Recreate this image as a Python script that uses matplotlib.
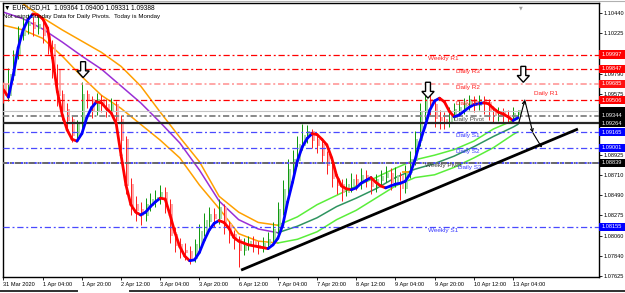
import matplotlib
matplotlib.use("Agg")
import matplotlib.pyplot as plt
from matplotlib.collections import LineCollection
from matplotlib.patches import Polygon, Rectangle
from matplotlib.lines import Line2D
import matplotlib.transforms as mtransforms
import numpy as np

plt.rcParams['font.family'] = ['Liberation Sans', 'DejaVu Sans']
plt.rcParams['lines.scale_dashes'] = False

# ---------------- data ----------------
title_text = "\u25BC EURUSD,H1  1.09364 1.09400 1.09331 1.09388"
note_text = "Not using Sunday Data for Daily Pivots.  Today is Monday"

x_tick_bars = [0, 16, 32, 48, 64, 80, 96, 112, 128, 144, 160, 176, 192, 208]
x_tick_labels = ["31 Mar 2020", "1 Apr 04:00", "1 Apr 20:00", "2 Apr 12:00", "3 Apr 04:00",
                 "3 Apr 20:00", "6 Apr 12:00", "7 Apr 04:00", "7 Apr 20:00", "8 Apr 12:00",
                 "9 Apr 04:00", "9 Apr 20:00", "10 Apr 12:00", "13 Apr 04:00"]
y_ticks = [1.10440, 1.10225, 1.10005, 1.09790, 1.09575, 1.09360, 1.09140,
           1.08925, 1.08710, 1.08490, 1.08275, 1.08060, 1.07840, 1.07625]
# tick labels hidden behind the price boxes in the reference
y_ticks_hidden = [1.10005, 1.09360, 1.09140]

first_open = 1.0967
closes = [1.0956, 1.0978, 1.0999, 1.1020, 1.1031, 1.1034, 1.1028, 1.1031, 1.1020, 1.1010,
          1.0983, 1.0956, 1.0940, 1.0930, 1.0913, 1.0924, 1.0956, 1.0951, 1.0940, 1.0951,
          1.0946, 1.0940, 1.0946, 1.0930, 1.0908, 1.0860, 1.0839, 1.0833, 1.0828, 1.0839,
          1.0844, 1.0846, 1.0852, 1.0839, 1.0807, 1.0796, 1.0790, 1.0788, 1.0782, 1.0796,
          1.0810, 1.0822, 1.0828, 1.0825, 1.0835, 1.0817, 1.0807, 1.0801, 1.0790, 1.0796,
          1.0799, 1.0795, 1.0793, 1.0797, 1.0801, 1.0812, 1.0833, 1.0855, 1.0876, 1.0887,
          1.0903, 1.0913, 1.0917, 1.0908, 1.0903, 1.0892, 1.0881, 1.0867, 1.0860, 1.0852,
          1.0860, 1.0865, 1.0862, 1.0870, 1.0865, 1.0859, 1.0865, 1.0869, 1.0872, 1.0863,
          1.0870, 1.0857, 1.0874, 1.0887, 1.0908, 1.0938, 1.0951, 1.0946, 1.0932, 1.0930,
          1.0927, 1.0935, 1.0940, 1.0942, 1.0947, 1.0951, 1.0946, 1.0951, 1.0948, 1.0940,
          1.0935, 1.0937, 1.0934, 1.0932, 1.0936, 1.0939]
highs = [1.0970, 1.0985, 1.1005, 1.1030, 1.1040, 1.1043, 1.1040, 1.1042, 1.1036, 1.1025,
         1.1015, 1.0990, 1.0962, 1.0948, 1.0935, 1.0930, 1.0970, 1.0962, 1.0955, 1.0958,
         1.0956, 1.0952, 1.0953, 1.0950, 1.0935, 1.0912, 1.0868, 1.0848, 1.0842, 1.0846,
         1.0852, 1.0855, 1.0860, 1.0858, 1.0845, 1.0815, 1.0803, 1.0798, 1.0795, 1.0802,
         1.0818, 1.0830, 1.0836, 1.0835, 1.0845, 1.0840, 1.0822, 1.0812, 1.0806, 1.0803,
         1.0806, 1.0805, 1.0800, 1.0804, 1.0810, 1.0820, 1.0842, 1.0865, 1.0888, 1.0898,
         1.0912, 1.0925, 1.0924, 1.0920, 1.0914, 1.0908, 1.0896, 1.0886, 1.0872, 1.0866,
         1.0868, 1.0873, 1.0872, 1.0878, 1.0876, 1.0870, 1.0872, 1.0876, 1.0880, 1.0878,
         1.0879, 1.0874, 1.0882, 1.0896, 1.0918, 1.0948, 1.0957, 1.0956, 1.0950, 1.0940,
         1.0938, 1.0943, 1.0948, 1.0950, 1.0953, 1.0956, 1.0955, 1.0956, 1.0955, 1.0952,
         1.0945, 1.0944, 1.0942, 1.0940, 1.0943, 1.0940]
lows = [1.0948, 1.0950, 1.0972, 1.0995, 1.1015, 1.1022, 1.1020, 1.1022, 1.1012, 1.1000,
        1.0975, 1.0945, 1.0930, 1.0920, 1.0906, 1.0908, 1.0920, 1.0942, 1.0932, 1.0935,
        1.0938, 1.0933, 1.0935, 1.0922, 1.0898, 1.0850, 1.0828, 1.0822, 1.0817, 1.0822,
        1.0832, 1.0836, 1.0840, 1.0830, 1.0798, 1.0788, 1.0782, 1.0780, 1.0776, 1.0778,
        1.0790, 1.0805, 1.0815, 1.0815, 1.0818, 1.0808, 1.0798, 1.0792, 1.0772, 1.0785,
        1.0790, 1.0788, 1.0786, 1.0788, 1.0792, 1.0796, 1.0808, 1.0828, 1.0850, 1.0870,
        1.0880, 1.0898, 1.0905, 1.0900, 1.0894, 1.0884, 1.0872, 1.0858, 1.0850, 1.0843,
        1.0848, 1.0853, 1.0855, 1.0856, 1.0858, 1.0850, 1.0853, 1.0860, 1.0863, 1.0855,
        1.0858, 1.0844, 1.0852, 1.0868, 1.0882, 1.0902, 1.0930, 1.0935, 1.0922, 1.0920,
        1.0920, 1.0922, 1.0930, 1.0934, 1.0936, 1.0940, 1.0938, 1.0940, 1.0936, 1.0930,
        1.0928, 1.0929, 1.0927, 1.0926, 1.0928, 1.0933]
ma_values = [1.0962, 1.0954, 1.0978, 1.1007, 1.1026, 1.1037, 1.1043, 1.1042, 1.1038, 1.1028,
             1.0996, 1.0960, 1.0935, 1.0919, 1.0909, 1.0907, 1.0915, 1.0932, 1.0943, 1.0949,
             1.0948, 1.0942, 1.0937, 1.0926, 1.0892, 1.0860, 1.0839, 1.0831, 1.0828, 1.0831,
             1.0837, 1.0842, 1.0846, 1.0845, 1.0828, 1.0809, 1.0794, 1.0784, 1.0779, 1.0780,
             1.0788, 1.0801, 1.0812, 1.0819, 1.0822, 1.0820, 1.0814, 1.0804, 1.0800, 1.0798,
             1.0796, 1.0795, 1.0794, 1.0793, 1.0792, 1.0796, 1.0803, 1.0817, 1.0842, 1.0863,
             1.0886, 1.0901, 1.0910, 1.0915, 1.0914, 1.0909, 1.0903, 1.0889, 1.0870, 1.0859,
             1.0856, 1.0855, 1.0857, 1.0862, 1.0865, 1.0868, 1.0863, 1.0859, 1.0857, 1.0859,
             1.0861, 1.0862, 1.0864, 1.0872, 1.0887, 1.0906, 1.0922, 1.0940, 1.0950, 1.0953,
             1.0949, 1.0939, 1.0933, 1.0935, 1.0939, 1.0943, 1.0946, 1.0947, 1.0948, 1.0947,
             1.0942, 1.0938, 1.0936, 1.0933, 1.0929, 1.0932]

env_bars = [0, 8, 16, 24, 32, 40, 48, 56, 64, 72, 80, 88, 96, 104, 112, 120, 128, 136,
            144, 152, 160, 168, 176, 184, 192, 200, 208, 210]
env_upper = [1.1067, 1.1054, 1.1039, 1.1026, 1.1014, 1.1002, 1.0987, 1.0966, 1.0938, 1.0911,
             1.0885, 1.0848, 1.0831, 1.0820, 1.0817, 1.0826, 1.0839, 1.0849, 1.0859, 1.0868,
             1.0878, 1.0887, 1.0892, 1.0898, 1.0907, 1.0920, 1.0929, 1.0931]
env_mid = [1.1045, 1.1038, 1.1027, 1.1013, 1.0998, 1.0984, 1.0966, 1.0948, 1.0927, 1.0905,
           1.0876, 1.0843, 1.0823, 1.0813, 1.0809, 1.0816, 1.0825, 1.0837, 1.0846, 1.0856,
           1.0868, 1.0877, 1.0883, 1.0891, 1.0901, 1.0912, 1.0922, 1.0925]
env_lower = [1.1031, 1.1026, 1.1017, 1.0998, 1.0976, 1.0956, 1.0942, 1.0925, 1.0908, 1.0889,
             1.0860, 1.0835, 1.0808, 1.0800, 1.0798, 1.0802, 1.0810, 1.0823, 1.0833, 1.0846,
             1.0859, 1.0868, 1.0871, 1.0879, 1.0889, 1.0900, 1.0914, 1.0917]

level_prices = [1.09997, 1.09847, 1.09685, 1.09506, 1.09388, 1.09344, 1.09264,
                1.09165, 1.09001, 1.08839, 1.08155]
level_box_colors = ['#ff0000', '#ff0000', '#ff1010', '#ff0000', '#000000', '#000000', '#000000',
                    '#0000ff', '#0000ff', '#000000', '#0000ff']

label_texts = ['Weekly R1', 'Daily R3', 'Daily R2', 'Daily R1', 'Daily R1', 'Daily Pivot',
               'Daily S1', 'Daily S2', 'Weekly Pivot', 'Daily S3', 'Weekly S1']
label_levels = [1.09997, 1.09847, 1.09685, 1.09506, 1.09506, 1.09344,
                1.09165, 1.09001, 1.08839, 1.08839, 1.08155]

trend_bars = [97.0, 234.5]
trend_prices = [1.0769, 1.0920]

arrow_bars = [32.5, 173.3, 212.2]
arrow_tips = [1.0975, 1.0953, 1.0970]

path_bars = [210.4, 212.8, 216.1, 219.8]
path_prices = [1.0927, 1.0951, 1.0916, 1.0900]

marker_bars = [164.0, 164.0]
marker_prices = [1.0884, 1.0874]

# ---------------- layout / style ----------------
W, H = 625, 293
fig = plt.figure(figsize=(W / 100, H / 100), dpi=100)
fig.patch.set_facecolor('white')
ax = fig.add_axes([2.5 / W, (H - 277.3) / H, 596 / W, 274 / H])
ax.set_facecolor('white')
ax.set_xlim(-0.4, 242.9)
ax.set_ylim(1.07613, 1.10545)

for s in ax.spines.values():
    s.set_color('black')
    s.set_linewidth(1.0)

# y axis on right
ax.yaxis.tick_right()
ax.set_yticks(y_ticks)
ax.set_yticklabels(["" if v in y_ticks_hidden else f"{v:.5f}" for v in y_ticks])
ax.tick_params(axis='y', direction='out', length=2.2, width=0.6, labelsize=4.1, pad=1.2,
               colors='black')
ax.set_xticks(x_tick_bars)
ax.set_xticklabels(x_tick_labels)
ax.tick_params(axis='x', direction='out', length=2.2, width=0.6, labelsize=4.1, pad=1.0)
for t in ax.get_xticklabels():
    t.set_ha('left')

DASHDOT = (0, (4.5, 2.0, 1.4, 2.0))

# level lines
red = '#ff0000'
blue = '#4a4aff'
ax.axhline(level_prices[0], color=red, lw=0.9, ls=DASHDOT, zorder=3.5)
ax.axhline(level_prices[1], color=red, lw=0.9, ls=DASHDOT, zorder=3.5)
ax.axhline(level_prices[2], color='#ff8f8f', lw=1.1, ls=DASHDOT, zorder=3.5)
ax.axhline(level_prices[3], color=red, lw=0.9, ls=DASHDOT, zorder=3.5)
ax.axhline(level_prices[4], color='#c4c4c4', lw=0.8, ls='-', zorder=3.5)
ax.axhline(level_prices[5], color='#808080', lw=1.3, ls=DASHDOT, zorder=3.5)
ax.axhline(level_prices[6], color='#262626', lw=1.6, ls='-', zorder=3.5)
ax.axhline(level_prices[7], color=blue, lw=0.9, ls=DASHDOT, zorder=3.5)
ax.axhline(level_prices[8], color=blue, lw=0.9, ls=DASHDOT, zorder=3.5)
ax.axhline(level_prices[9], color=blue, lw=1.4, ls=DASHDOT, zorder=3.5)
ax.axhline(level_prices[9], color='#6a6a6a', lw=1.4, ls=(1.5, (4.5, 2.0, 1.4, 2.0)), zorder=3.6)
ax.axhline(level_prices[10], color=blue, lw=0.9, ls=DASHDOT, zorder=3.5)

# envelopes
split = 14
ax.plot(env_bars[:split + 1], env_upper[:split + 1], color='#ffa000', lw=1.1, zorder=2)
ax.plot(env_bars[:split + 1], env_mid[:split + 1], color='#9a2fd6', lw=1.1, zorder=2)
ax.plot(env_bars[:split + 1], env_lower[:split + 1], color='#ffa000', lw=1.1, zorder=2)
ax.plot(env_bars[split:], env_upper[split:], color='#5aee3a', lw=1.1, zorder=2)
ax.plot(env_bars[split:], env_mid[split:], color='#2e9460', lw=1.1, zorder=2)
ax.plot(env_bars[split:], env_lower[split:], color='#5aee3a', lw=1.1, zorder=2)

# candles
opens = [first_open] + closes[:-1]
cbars = np.arange(len(closes)) * 2
for b, o, h, l, c in zip(cbars, opens, highs, lows, closes):
    up = c >= o
    light = '#a0d8a0' if up else '#ffa0a0'
    dark = '#0a960a' if up else '#ff1a1a'
    ax.vlines(b + 0.9, min(o, c) - 0.0001, max(o, c) + 0.0001, color=light, lw=1.3, zorder=2.5)
    ax.vlines(b, l, h, color=dark, lw=0.7, zorder=2.6)

# small indicator marks near weekly pivot
ax.hlines(marker_prices[0], marker_bars[0] - 1.5, marker_bars[0] + 1.5, color='#e020e0', lw=1.2, zorder=3)
ax.hlines(marker_prices[1], marker_bars[1] - 1.5, marker_bars[1] + 1.5, color='#ff9900', lw=1.2, zorder=3)

# smoothed MA (blue rising, red falling)
pts = np.column_stack([cbars, ma_values])
segs = np.stack([pts[:-1], pts[1:]], axis=1)
diffs = np.diff(ma_values)
cols = ['#0000ff' if d > 0 else '#ff0000' for d in diffs]
ax.add_collection(LineCollection(segs, colors=cols, linewidths=2.0, zorder=4,
                                 capstyle='round', joinstyle='round'))

# trend line
ax.plot(trend_bars, trend_prices, color='black', lw=2.0, zorder=5, solid_capstyle='butt')

# block arrows (hollow, pointing down)
for bx, tip in zip(arrow_bars, arrow_tips):
    sw, hw, hl, tl = 1.0, 2.5, 0.00072, 0.0017
    poly = [(bx - sw, tip + tl), (bx + sw, tip + tl), (bx + sw, tip + hl), (bx + hw, tip + hl),
            (bx, tip), (bx - hw, tip + hl), (bx - sw, tip + hl)]
    ax.add_patch(Polygon(poly, closed=True, facecolor='white', edgecolor='black', lw=1.0,
                         zorder=6))

# hand-drawn path arrows
for i in range(len(path_bars) - 1):
    ax.annotate('', xy=(path_bars[i + 1], path_prices[i + 1]),
                xytext=(path_bars[i], path_prices[i]),
                arrowprops=dict(arrowstyle='->', color='black', lw=0.8, shrinkA=0, shrinkB=0,
                                mutation_scale=5), zorder=6)

# level labels on chart
label_bar_pos = [173.3, 184.7, 184.7, 184.7, 216.5, 183.9, 184.7, 184.7, 172.0, 185.5, 173.3]
label_offsets = [-0.00046, -0.00030, -0.00036, -0.00032, 0.00070, -0.00038,
                 -0.00034, -0.00038, -0.00032, -0.00050, -0.00040]
label_cols = ['#ff2020', '#ff2020', '#ff2020', '#ff2020', '#ff2020', '#505050',
              '#3a3aff', '#3a3aff', '#404040', '#3a3aff', '#3a3aff']
for txt, lv, bx, off, col in zip(label_texts, label_levels, label_bar_pos, label_offsets, label_cols):
    ax.text(bx, lv + off, txt, color=col, fontsize=4.6, ha='left', va='center', zorder=7)

# price boxes on right axis
trans = mtransforms.blended_transform_factory(ax.transAxes, ax.transData)
box_h = 0.00086
order = [0, 1, 2, 3, 4, 6, 5, 7, 8, 9, 10]
for i in order:
    p = level_prices[i]
    ax.add_patch(Rectangle((1.0012, p - box_h / 2), 0.044, box_h, transform=trans,
                           facecolor=level_box_colors[i], edgecolor='none', clip_on=False,
                           zorder=8))
    if i == 4:
        continue  # bid box is covered by the pivot box in the reference
    ax.text(1.0045, p, f"{p:.5f}", transform=trans, color='white', fontsize=4.1,
            ha='left', va='center', clip_on=False, zorder=9)

# shift marker
ax.text(518.5 / 596, 1 - 2.0 / 274, "\u25BC", transform=ax.transAxes, color='#a0a0a0',
        fontsize=3.5, ha='center', va='top', family=['DejaVu Sans'], zorder=7)

# title texts
fig.text(4 / W, 1 - 7.2 / H, title_text, fontsize=4.8, color='black', ha='left', va='center',
         family=['Liberation Sans', 'DejaVu Sans'])
fig.text(3 / W, 1 - 16.5 / H, note_text, fontsize=4.4, color='black', ha='left', va='center')

# window frame lines
fig.add_artist(Line2D([0, 1], [1 - 0.5 / H, 1 - 0.5 / H], color='#b0b0b0', lw=0.8))
fig.add_artist(Line2D([0, 77 / W], [1.6 / H, 1.6 / H], color='#303030', lw=1.4))
fig.add_artist(Line2D([130 / W, 1], [1.6 / H, 1.6 / H], color='#303030', lw=1.4))

fig.savefig('out.png', dpi=100, facecolor='white')
